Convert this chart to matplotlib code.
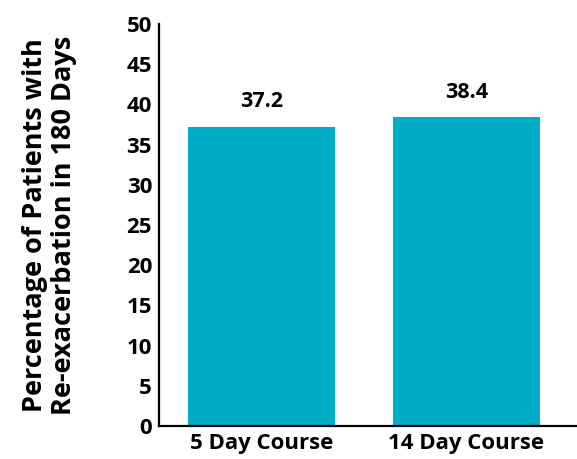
import matplotlib.pyplot as plt

categories = ['5 Day Course', '14 Day Course']
values = [37.2, 38.4]
yticks = [0, 5, 10, 15, 20, 25, 30, 35, 40, 45, 50]

plt.rcParams['font.family'] = ['Open Sans', 'DejaVu Sans']
plt.rcParams['font.weight'] = 'bold'

fig = plt.figure(figsize=(5.77, 4.59), dpi=100)
ax = fig.add_axes([159 / 577, 33 / 459, 418 / 577, 402 / 459])

x = range(len(categories))
ax.bar(x, values, width=0.72, color='#00ADC4')
for xi, v in zip(x, values):
    ax.text(xi, v + 1.8, f'{v}', ha='center', va='bottom', fontsize=15.5, fontweight='bold')

ax.set_xlim(-0.5, 1.54)
ax.set_ylim(0, 50)
ax.set_yticks(yticks)
ax.set_xticks(list(x))
ax.set_xticklabels(categories, fontsize=16, fontweight='bold')
ax.tick_params(axis='y', length=0, labelsize=16, pad=5)
ax.tick_params(axis='x', length=0, pad=5)
for lab in ax.get_yticklabels():
    lab.set_fontweight('bold')

ax.spines['top'].set_visible(False)
ax.spines['right'].set_visible(False)
ax.spines['left'].set_linewidth(1.6)
ax.spines['bottom'].set_linewidth(1.6)

ax.set_ylabel('Percentage of Patients with\nRe-exacerbation in 180 Days',
              fontsize=19.5, fontweight='bold', linespacing=1.15, labelpad=36)

fig.savefig('out.png', dpi=100)
